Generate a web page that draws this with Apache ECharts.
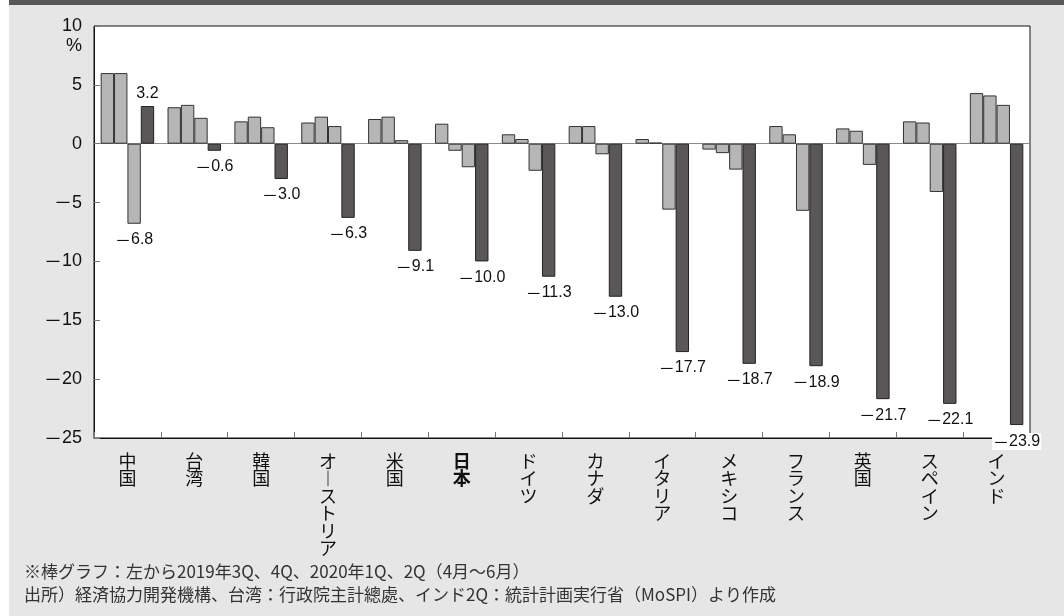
<!DOCTYPE html>
<html>
<head>
<meta charset="utf-8">
<script src="https://cdn.jsdelivr.net/npm/echarts@6/dist/echarts.min.js"></script>
<style>
  html, body { margin: 0; padding: 0; background: #ffffff; }
  #chart { width: 1064px; height: 616px; }
</style>
</head>
<body>
<div id="chart"></div>
<script>
// Real GDP growth by country and quarter (%)
const countries = ['中国', '台湾', '韓国', 'オーストリア', '米国', '日本', 'ドイツ', 'カナダ', 'イタリア', 'メキシコ', 'フランス', '英国', 'スペイン', 'インド'];
const q3_2019 = [6.0, 3.1, 1.9, 1.8, 2.1, 1.7, 0.8, 1.5, 0.4, -0.5, 1.5, 1.3, 1.9, 4.3];
const q4_2019 = [6.0, 3.3, 2.3, 2.3, 2.3, -0.6, 0.4, 1.5, 0.1, -0.8, 0.8, 1.1, 1.8, 4.1];
const q1_2020 = [-6.8, 2.2, 1.4, 1.5, 0.3, -2.0, -2.3, -0.9, -5.6, -2.2, -5.7, -1.8, -4.1, 3.3];
const q2_2020 = [3.2, -0.6, -3.0, -6.3, -9.1, -10.0, -11.3, -13.0, -17.7, -18.7, -18.9, -21.7, -22.1, -23.9];
// Which bars of the 2020 1Q series carry a value label
const q1Labelled = ['中国'];
// Category shown in bold
const highlighted = ['日本'];

const notes = [
  '※棒グラフ：左から2019年3Q、4Q、2020年1Q、2Q（4月～6月）',
  '出所）経済協力開発機構、台湾：行政院主計總處、インド2Q：統計計画実行省（MoSPI）より作成'
];

const LIGHT = '#b6b6b6';
const DARK = '#595757';
const EDGE = '#333333';
const NUM_FONT = "'Liberation Sans', Arial, Helvetica, sans-serif";
const JP_FONT = "'Noto Sans CJK JP', 'Noto Sans', sans-serif";

// Number with a full-width minus sign, as rich text
function richNum(v, digits) {
  const s = digits == null ? String(Math.abs(v)) : Math.abs(v).toFixed(digits);
  return v < 0 ? '{m|\uFF0D}{n|' + s + '}' : '{n|' + s + '}';
}

function numRich(size) {
  return {
    m: { fontFamily: JP_FONT, fontSize: size, color: '#111' },
    n: { fontFamily: NUM_FONT, fontSize: size, color: '#111' }
  };
}

function labelledItem(v, withBg) {
  return {
    value: v,
    label: {
      show: true,
      position: v < 0 ? 'bottom' : 'top',
      distance: v < 0 ? 8 : 4,
      formatter: p => richNum(p.value, 1),
      rich: numRich(16),
      backgroundColor: withBg ? '#ffffff' : 'transparent',
      padding: withBg ? [1, 1, 0, 1] : 0
    }
  };
}

const barBase = {
  type: 'bar',
  barGap: '0%',
  barCategoryGap: '20%'
};

const catRich = {
  r: { fontFamily: JP_FONT, fontSize: 18, lineHeight: 17.5, color: '#111' },
  b: { fontFamily: JP_FONT, fontSize: 18, lineHeight: 17.5, color: '#111', fontWeight: 'bold' }
};

const chart = echarts.init(document.getElementById('chart'), null, { renderer: 'canvas' });

chart.setOption({
  animation: false,
  backgroundColor: '#ffffff',
  grid: {
    left: 94, right: 34, top: 26, bottom: 178,
    show: true, backgroundColor: '#ffffff', borderColor: '#111', borderWidth: 1
  },
  xAxis: {
    type: 'category',
    data: countries,
    axisLine: { onZero: false, lineStyle: { color: '#111', width: 1 } },
    axisTick: { show: true, inside: true, length: 6, interval: 0, lineStyle: { color: '#777' } },
    axisLabel: {
      interval: 0,
      margin: 14,
      verticalAlign: 'top',
      rich: catRich,
      formatter: name => {
        const key = highlighted.includes(name) ? 'b' : 'r';
        return name.split('').map(c => '{' + key + '|' + (c === 'ー' ? '\uFE31' : c) + '}').join('\n');
      }
    }
  },
  yAxis: {
    type: 'value',
    min: -25, max: 10, interval: 5,
    axisLine: { show: true, lineStyle: { color: '#111', width: 1 } },
    axisTick: { show: true, inside: true, length: 6, lineStyle: { color: '#777' } },
    axisLabel: {
      margin: 12,
      rich: numRich(18),
      formatter: v => richNum(v)
    },
    splitLine: {
      show: true,
      lineStyle: {
        // only the zero line is drawn
        color: ['transparent', 'transparent', 'transparent', 'transparent', 'transparent', '#8a8a8a', 'transparent', 'transparent'],
        width: 1
      }
    }
  },
  graphic: [
    { type: 'rect', z: -100, silent: true, shape: { x: 9, y: 0, width: 1055, height: 616 }, style: { fill: '#e6e6e6' } },
    { type: 'rect', z: -99, silent: true, shape: { x: 9, y: 0, width: 1055, height: 5 }, style: { fill: '#5a5758' } },
    { type: 'text', z: 100, silent: true, style: { x: 82, y: 46, text: '%', font: '18px ' + NUM_FONT, fill: '#111', align: 'right', verticalAlign: 'middle' } },
    { type: 'text', z: 100, silent: true, style: { x: 24, y: 572, text: notes[0], font: '17px ' + JP_FONT, fill: '#333', verticalAlign: 'middle' } },
    { type: 'text', z: 100, silent: true, style: { x: 24, y: 595, text: notes[1], font: '17px ' + JP_FONT, fill: '#333', verticalAlign: 'middle' } }
  ],
  series: [
    Object.assign({}, barBase, { name: '2019年3Q', data: q3_2019, itemStyle: { color: LIGHT, borderColor: EDGE, borderWidth: 1 } }),
    Object.assign({}, barBase, { name: '2019年4Q', data: q4_2019, itemStyle: { color: LIGHT, borderColor: EDGE, borderWidth: 1 } }),
    Object.assign({}, barBase, {
      name: '2020年1Q',
      data: q1_2020.map((v, i) => (q1Labelled.includes(countries[i]) ? labelledItem(v, false) : v)),
      itemStyle: { color: LIGHT, borderColor: EDGE, borderWidth: 1 }
    }),
    Object.assign({}, barBase, {
      name: '2020年2Q',
      data: q2_2020.map((v, i) => labelledItem(v, i === q2_2020.length - 1)),
      itemStyle: { color: DARK, borderColor: '#222', borderWidth: 1 },
      z: 3
    })
  ]
});
</script>
</body>
</html>
